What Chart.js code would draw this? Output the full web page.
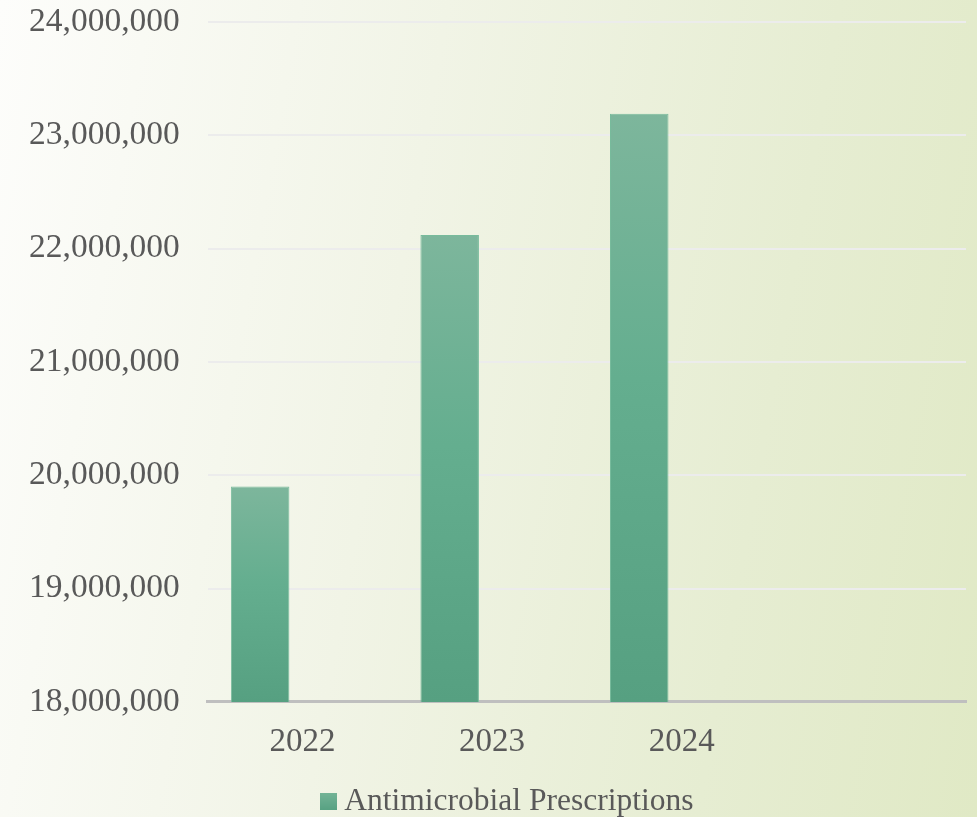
<!DOCTYPE html>
<html>
<head>
<meta charset="utf-8">
<script src="https://cdn.jsdelivr.net/npm/chart.js@4"></script>
<style>
  html, body { margin: 0; padding: 0; }
  body {
    width: 977px;
    height: 817px;
    background: linear-gradient(100deg, #fdfdfb 0%, #f1f4e6 40%, #e6edd2 75%, #e0e9c5 100%);
    overflow: hidden;
  }
  #wrap { width: 977px; height: 817px; position: relative; }
</style>
</head>
<body>
<div id="wrap"><canvas id="chart"></canvas></div>
<script>
const years = ["2022", "2023", "2024", ""];
const prescriptions = [19900000, 22120000, 23190000, null];
const emptySeries = [null, null, null, null];
const seriesName = "Antimicrobial Prescriptions";

const serif = "'Liberation Serif', 'Times New Roman', serif";

// Dégradé vertical par barre
function barGradient(context) {
  const chart = context.chart;
  const area = chart.chartArea;
  if (!area || context.raw == null) return "#66ab8c";
  const yScale = chart.scales.y;
  const top = yScale.getPixelForValue(context.raw);
  const bottom = yScale.getPixelForValue(yScale.min);
  const g = chart.ctx.createLinearGradient(0, top, 0, bottom);
  g.addColorStop(0, "#7db69c");
  g.addColorStop(0.45, "#64ae8f");
  g.addColorStop(1, "#56a081");
  return g;
}

// Carré de légende
const legendSwatch = document.createElement("canvas");
legendSwatch.width = 17;
legendSwatch.height = 17;
(function () {
  const c = legendSwatch.getContext("2d");
  const g = c.createLinearGradient(0, 0, 0, 17);
  g.addColorStop(0, "#74b497");
  g.addColorStop(1, "#58a283");
  c.fillStyle = g;
  c.fillRect(0, 0, 17, 17);
})();

// Décalage de la légende
const legendShift = {
  id: "legendShift",
  afterLayout(chart) {
    const lg = chart.legend;
    if (!lg) return;
    lg.left += 27;
    lg.right += 27;
    lg.top += 10;
    lg.bottom += 10;
  },
};

const ctx = document.getElementById("chart").getContext("2d");
let chart = new Chart(ctx, {
  type: "bar",
  data: {
    labels: years,
    datasets: [
      {
        label: seriesName,
        data: prescriptions,
        backgroundColor: barGradient,
        borderColor: "#78bb9c",
        borderWidth: 1,
        borderSkipped: "bottom",
      },
      { label: "", data: emptySeries, backgroundColor: "#66ab8c" },
    ],
  },
  plugins: [legendShift],
  options: {
    responsive: true,
    maintainAspectRatio: false,
    animation: false,
    datasets: { bar: { categoryPercentage: 0.895, barPercentage: 0.69 } },
    layout: { padding: { top: 0, right: 11, left: 1, bottom: 0 } },
    plugins: {
      tooltip: { enabled: false },
      legend: {
        position: "bottom",
        labels: {
          filter: (item) => item.text !== "",
          usePointStyle: true,
          pointStyle: legendSwatch,
          pointStyleWidth: 1,
          boxHeight: 17,
          padding: 0,
          color: "#595959",
          font: { family: serif, size: 31.5 },
        },
      },
    },
    scales: {
      x: {
        grid: { display: false },
        border: { color: "#bfbfbf", width: 3 },
        ticks: {
          color: "#595959",
          padding: 13,
          font: { family: serif, size: 33 },
        },
      },
      y: {
        min: 18000000,
        max: 24000000,
        grid: { color: "#ececec", lineWidth: 2, drawTicks: false },
        border: { display: false },
        afterFit: (scale) => {
          scale.paddingTop = 22;
        },
        ticks: {
          stepSize: 1000000,
          color: "#595959",
          padding: 28,
          font: { family: serif, size: 33.5 },
          callback: (v) => v.toLocaleString("en-US"),
        },
      },
    },
  },
});
</script>
</body>
</html>
